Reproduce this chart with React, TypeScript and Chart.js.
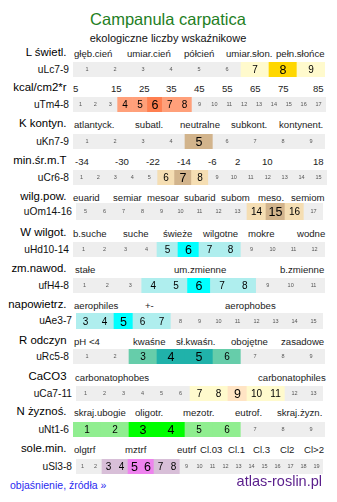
import React, { useEffect, useRef } from 'react';
import { Chart, registerables } from 'chart.js';
Chart.register(...registerables);

const FONT = '"Liberation Sans", Arial, Helvetica, sans-serif';

// ---- data ----
const titleText = 'Campanula carpatica';
const subtitleText = 'ekologiczne liczby wskaźnikowe';
const indicatorNames = ['L świetl.', 'kcal/cm2*r', 'K kontyn.', 'min.śr.m.T', 'wilg.pow.', 'W wilgot.', 'zm.nawod.', 'napowietrz.', 'R odczyn', 'CaCO3', 'N żyznoś.', 'sole.min.'];
const indicatorCodes = ['uLc7-9', 'uTm4-8', 'uKn7-9', 'uCr6-8', 'uOm14-16', 'uHd10-14', 'ufH4-8', 'uAe3-7', 'uRc5-8', 'uCa7-11', 'uNt1-6', 'uSl3-8'];

const cellsL = [1, 2, 3, 4, 5, 6, 7, 8, 9];
const cellsTm = [1, 2, 3, 4, 5, 6, 7, 8, 9, 10, 11, 12, 13, 14, 15, 16, 17];
const cellsKn = [1, 2, 3, 4, 5, 6, 7, 8, 9];
const cellsCr = [1, 2, 3, 4, 5, 6, 7, 8, 9, 10, 11, 12, 13, 14, 15];
const cellsOm = [5, 6, 7, 8, 9, 10, 11, 12, 13, 14, 15, 16, 17];
const cellsHd = [1, 2, 3, 4, 5, 6, 7, 8, 9, 10, 11, 12];
const cellsfH = [1, 2, 3, 4, 5, 6, 7, 8, 9, 10, 11];
const cellsAe = [3, 4, 5, 6, 7, 8, 9, 10, 11, 12, 13, 14, 15];
const cellsRc = [1, 2, 3, 4, 5, 6, 7, 8, 9];
const cellsCa = [1, 2, 3, 4, 5, 6, 7, 8, 9, 10, 11, 12, 13];
const cellsNt = [1, 2, 3, 4, 5, 6, 7, 8, 9];
const cellsSl = [1, 2, 3, 4, 5, 6, 7, 8, 9, 10, 11, 12, 13, 14, 15, 16, 17, 18, 19];
const rowCells = [cellsL, cellsTm, cellsKn, cellsCr, cellsOm, cellsHd, cellsfH, cellsAe, cellsRc, cellsCa, cellsNt, cellsSl];

const rangeLow = [7, 4, 5, 6, 14, 5, 4, 3, 3, 7, 1, 3];
const rangeHigh = [9, 8, 5, 8, 16, 8, 8, 7, 6, 11, 6, 8];
const peakLow = [8, 6, 5, 7, 15, 6, 6, 5, 4, 9, 3, 5];
const peakHigh = [8, 6, 5, 7, 15, 6, 6, 5, 5, 9, 4, 6];

const labelsL = ['głęb.cień', 'umiar.cień', 'półcień', 'umiar.słon.', 'pełn.słońce'];
const labelsTm = ['5', '15', '25', '35', '45', '55', '65', '75', '85'];
const labelsKn = ['atlantyck.', 'subatl.', 'neutralne', 'subkont.', 'kontynent.'];
const labelsCr = ['-34', '-30', '-22', '-14', '-6', '2', '10', '18'];
const labelsOm = ['euarid', 'semiar', 'mesoar', 'subarid', 'subom', 'meso.', 'semiom'];
const labelsHd = ['b.suche', 'suche', 'świeże', 'wilgotne', 'mokre', 'wodne'];
const labelsfH = ['stałe', 'um.zmienne', 'b.zmienne'];
const labelsAe = ['aerophiles', '+-', 'aerophobes'];
const labelsRc = ['pH <4', 'kwaśne', 'sł.kwaśn.', 'obojętne', 'zasadowe'];
const labelsCa = ['carbonatophobes', 'carbonatophiles'];
const labelsNt = ['skraj.ubogie', 'oligotr.', 'mezotr.', 'eutrof.', 'skraj.żyzn.'];
const labelsSl = ['olgtrf', 'mztrf', 'eutrf', 'Cl.03', 'Cl.1', 'Cl.3', 'Cl2', 'Cl>2'];
const rowLabels = [labelsL, labelsTm, labelsKn, labelsCr, labelsOm, labelsHd, labelsfH, labelsAe, labelsRc, labelsCa, labelsNt, labelsSl];

// ---- layout / style ----
const labelX = [
  [74, 127, 184, 226, 276],
  [73, 111, 139, 166, 194, 222, 250, 278, 313],
  [74, 135, 180, 231, 279],
  [75, 115, 146, 177, 208, 235, 262, 313],
  [73, 113, 147, 184, 221, 258, 291],
  [73, 123, 163, 203, 248, 297],
  [75, 174, 280],
  [74, 145, 225],
  [74, 133, 176, 231, 281],
  [75, 258],
  [74, 135, 183, 235, 277],
  [74, 125, 177, 200, 228, 253, 280, 304],
];
const headerBase = [57, 92, 128, 165, 201, 237, 273, 309, 345, 381, 416, 453];
const barGeom = [
  { x: 73, y: 62, w: 252, h: 15 },
  { x: 73, y: 97, w: 253, h: 15 },
  { x: 73, y: 134, w: 252, h: 15 },
  { x: 73, y: 170, w: 254, h: 15 },
  { x: 76, y: 203, w: 247, h: 17 },
  { x: 73, y: 242, w: 252, h: 15 },
  { x: 73, y: 278, w: 252, h: 15 },
  { x: 76, y: 313, w: 247, h: 16 },
  { x: 73, y: 349, w: 252, h: 15 },
  { x: 76, y: 386, w: 247, h: 15 },
  { x: 73, y: 422, w: 252, h: 15 },
  { x: 76, y: 459, w: 247, h: 15 },
];
const rangeColor = ['#fffacd', '#ffa07a', '#d2b48c', '#f5deb3', '#f5deb3', '#afeeee', '#afeeee', '#afeeee', '#66cdaa', '#fffacd', '#90ee90', '#d8bfd8'];
const peakColor = ['#ffd700', '#ff7f50', '#d2b48c', '#d2b48c', '#d2b48c', '#00ffff', '#00ffff', '#00ffff', '#20b2aa', '#ffe4c4', '#00ff00', '#ee82ee'];
const GREY = '#eeeeee';

const Txt = ({ x, base, size, align = 'left', color = '#000', children }: any) => {
  const top = base - 0.8465 * size;
  const style: any = {
    position: 'absolute', top, fontSize: size, lineHeight: size + 'px', fontFamily: FONT,
    color, whiteSpace: 'nowrap',
  };
  if (align === 'right') style.right = 337 - x;
  else if (align === 'center') { style.left = x; style.transform = 'translateX(-50%)'; }
  else style.left = x;
  return <div style={style}>{children}</div>;
};

const CellRow = ({ idx }: { idx: number }) => {
  const ref = useRef<HTMLCanvasElement>(null);
  useEffect(() => {
    const cells = rowCells[idx];
    const kind = (v: number) =>
      v >= peakLow[idx] && v <= peakHigh[idx] ? 2 : v >= rangeLow[idx] && v <= rangeHigh[idx] ? 1 : 0;
    const colors = cells.map((v) => { const k = kind(v); return k === 2 ? peakColor[idx] : k === 1 ? rangeColor[idx] : GREY; });
    const labelPlugin = {
      id: 'cellLabels',
      beforeDraw(chart: any) {
        const { ctx, width, height } = chart;
        ctx.save();
        ctx.fillStyle = GREY;
        ctx.fillRect(0, 0, width, height);
        ctx.restore();
      },
      afterDatasetsDraw(chart: any) {
        const { ctx, chartArea } = chart;
        const meta = chart.getDatasetMeta(0);
        const cy = (chartArea.top + chartArea.bottom) / 2;
        ctx.save();
        ctx.textAlign = 'center';
        ctx.textBaseline = 'alphabetic';
        meta.data.forEach((bar: any, i: number) => {
          const v = cells[i];
          const k = kind(v);
          const size = k === 2 ? 12.5 : k === 1 ? 10 : 5.5;
          ctx.font = `${size}px ${FONT}`;
          ctx.fillStyle = k === 0 ? '#555' : '#000';
          ctx.fillText(String(v), bar.x, cy + size * 0.36);
        });
        ctx.restore();
      },
    };
    const chart = new Chart(ref.current as HTMLCanvasElement, {
      type: 'bar',
      data: {
        labels: cells.map(String),
        datasets: [{
          data: cells.map(() => 1),
          backgroundColor: colors,
          borderWidth: 0,
          barPercentage: 1,
          categoryPercentage: 1,
        }],
      },
      options: {
        responsive: false,
        animation: false,
        events: [],
        layout: { padding: 0 },
        plugins: { legend: { display: false }, tooltip: { enabled: false } },
        scales: {
          x: { display: false },
          y: { display: false, min: 0, max: 1 },
        },
      },
      plugins: [labelPlugin],
    } as any);
    return () => chart.destroy();
  }, [idx]);
  const g = barGeom[idx];
  return (
    <canvas ref={ref} width={g.w} height={g.h}
      style={{ position: 'absolute', left: g.x, top: g.y, width: g.w, height: g.h }} />
  );
};

export default function App() {
  return (
    <div style={{ position: 'absolute', left: 0, top: 0, width: 337, height: 502, background: '#fff', overflow: 'hidden', fontFamily: FONT }}>
      <Txt x={168} base={25} size={16.5} align="center" color="#1f801f">{titleText}</Txt>
      <Txt x={168} base={42} size={11} align="center" color="#111">{subtitleText}</Txt>
      {indicatorNames.map((name, i) => {
        const g = barGeom[i];
        return (
          <React.Fragment key={i}>
            <Txt x={66.5} base={headerBase[i]} size={11.4} align="right">{name}</Txt>
            <Txt x={g.x - 4} base={g.y + g.h / 2 + 3.8} size={10.2} align="right" color="#111">{indicatorCodes[i]}</Txt>
            {rowLabels[i].map((lab, j) => (
              <Txt key={j} x={labelX[i][j]} base={headerBase[i]} size={9.6} color="#222">{lab}</Txt>
            ))}
            <CellRow idx={i} />
          </React.Fragment>
        );
      })}
      <Txt x={10} base={489} size={10.5} color="#2a2af0">objaśnienie, źródła »</Txt>
      <Txt x={322} base={486} size={14.5} align="right" color="#5a1e8c">atlas-roslin.pl</Txt>
    </div>
  );
}
